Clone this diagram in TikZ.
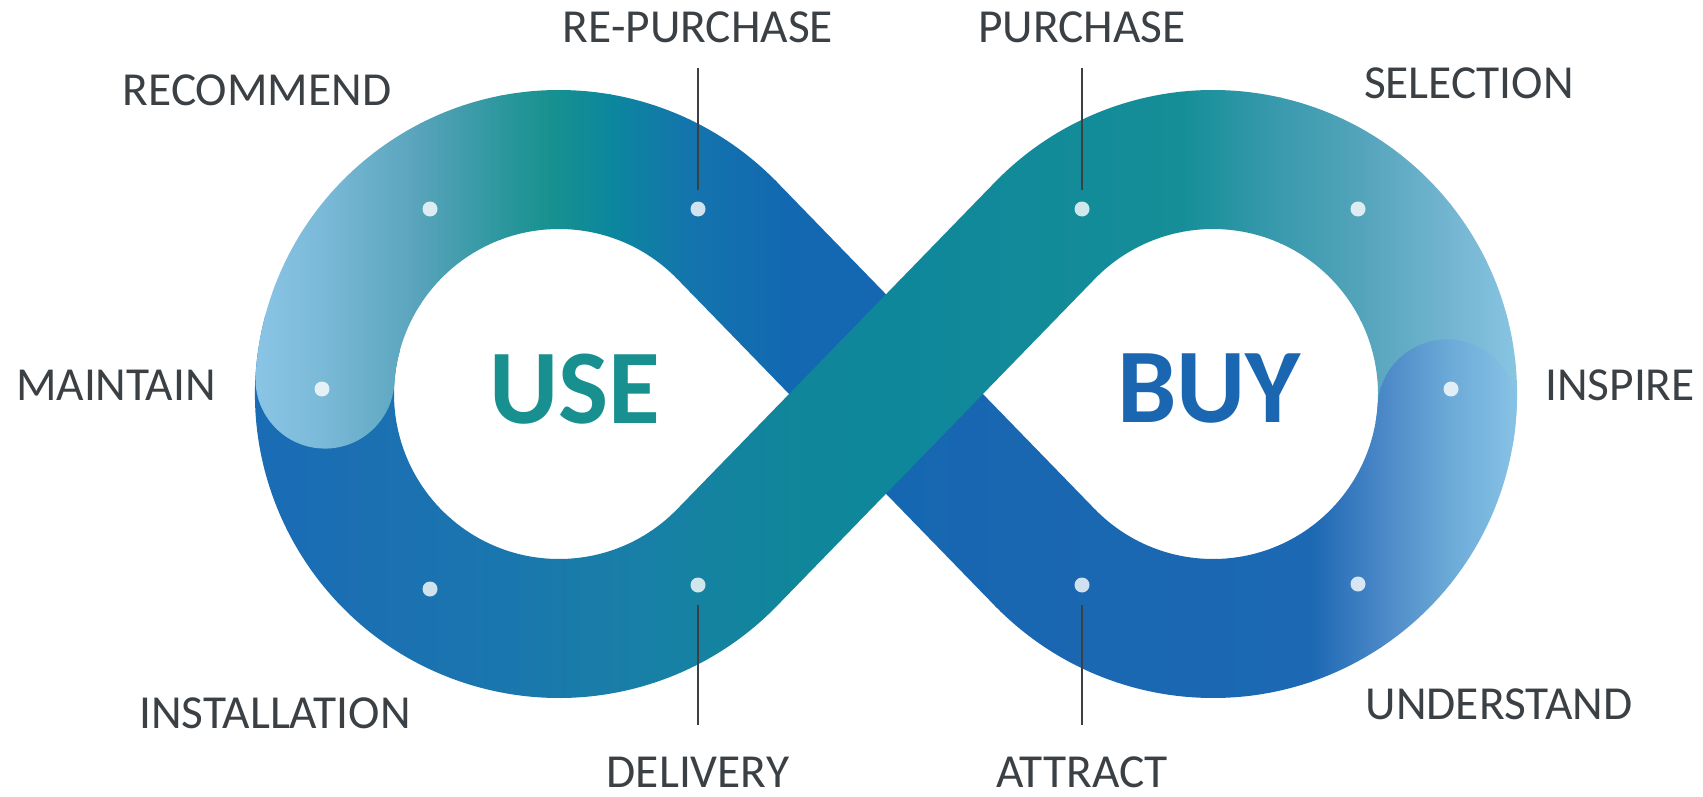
\documentclass[tikz,border=0pt]{standalone}
\usepackage{fontspec}
\setmainfont{Carlito}
\usetikzlibrary{calc}
\definecolor{labelgray}{HTML}{3B4045}
\definecolor{usecol}{HTML}{17908F}
\definecolor{buycol}{HTML}{1B66B1}
% stroke 2 (blue diagonal, top-left arc, bottom-right arc)
\definecolor{ga}{HTML}{8EC7E9}
\definecolor{gb}{HTML}{78B8D6}
\definecolor{gc}{HTML}{57A3BA}
\definecolor{gd}{HTML}{2C979E}
\definecolor{ge}{HTML}{17918F}
\definecolor{gf}{HTML}{0B879E}
\definecolor{gg}{HTML}{1474AD}
\definecolor{gh}{HTML}{1268B1}
\definecolor{gi}{HTML}{1966B1}
\definecolor{gj}{HTML}{1C68B3}
\definecolor{gk}{HTML}{4A87C7}
\definecolor{gl}{HTML}{6CAAD8}
\definecolor{gm}{HTML}{8DC8E8}
% stroke 1 (bottom-left arc, teal diagonal, top-right arc)
\definecolor{ha}{HTML}{1A6BB5}
\definecolor{hb}{HTML}{1B73B0}
\definecolor{hc}{HTML}{1880A6}
\definecolor{hd}{HTML}{0F8699}
\definecolor{he}{HTML}{0F879B}
\definecolor{hf}{HTML}{158E98}
\definecolor{hg}{HTML}{3A9AAE}
\definecolor{hh}{HTML}{53A4BA}
\definecolor{hi}{HTML}{74B5D1}
\definecolor{hj}{HTML}{8CC8E6}
\newcommand\gradfill[1]{%
  \foreach \xa/\ca/\xb/\cb in {#1}{%
    \shade[left color=\ca,right color=\cb] (\xa,-10) rectangle (\xb+1,810);}}
\newcommand\gradtwo{\gradfill{240/ga/330/gb,330/gb/420/gc,420/gc/500/gd,500/gd/550/ge,550/ge/610/gf,610/gf/690/gg,690/gg/790/gh,790/gh/1000/gi,1000/gi/1310/gj,1310/gj/1380/gk,1380/gk/1450/gl,1450/gl/1530/gm}}
\newcommand\gradone{\gradfill{240/ha/450/hb,450/hb/650/hc,650/hc/800/hd,800/hd/900/he,900/he/1180/hf,1180/hf/1280/hg,1280/hg/1360/hh,1360/hh/1450/hi,1450/hi/1530/hj}}
\begin{document}
\begin{tikzpicture}[x=0.5pt,y=-0.5pt,
  lbl/.style={font=\fontsize{23.7}{23.7}\selectfont, text=labelgray, inner sep=0pt, text depth=0pt, anchor=base},
  big/.style={font=\fontsize{53}{53}\selectfont\bfseries, inner sep=0pt, text depth=0pt, anchor=base},
  dotn/.style={circle, fill=white, fill opacity=0.8, inner sep=0pt, minimum size=7.5pt},
  stem/.style={draw=labelgray, line width=1pt}]
\useasboundingbox (0,0) rectangle (1703,797);
\coordinate (L) at (559,394);
\coordinate (R) at (1213,394);

% 1. blue diagonal (under the teal one)
\begin{scope}
\clip (774.9,180.0) -- (1096.8,511.2) -- (997.1,608.1) -- (675.2,276.8) -- cycle;
\gradtwo
\end{scope}

% 2. first stroke: bottom-left arc, teal diagonal, top-right arc
\begin{scope}
\clip ($(L)+(195:304)$) arc[start angle=195,end angle=44.18,radius=304]
  -- ($(R)+(224.18:165)$) arc[start angle=224.18,end angle=370,radius=165]
  -- ($(R)+(370:304)$) arc[start angle=370,end angle=224.18,radius=304]
  -- ($(L)+(44.18:165)$) arc[start angle=44.18,end angle=195,radius=165] -- cycle;
\gradone
\end{scope}

% 3. top-left arc with its round end
\begin{scope}
\clip ($(L)+(315.82:165)$) arc[start angle=315.82,end angle=183.65,radius=165]
  arc[start angle=3.65,end angle=183.65,radius=69.5]
  arc[start angle=183.65,end angle=315.82,radius=304] -- cycle;
\gradtwo
\end{scope}

% 4. bottom-right arc with its round start
\begin{scope}
\clip ($(R)+(3.65:304)$) arc[start angle=3.65,end angle=135.82,radius=304]
  -- ($(R)+(135.82:165)$) arc[start angle=135.82,end angle=3.65,radius=165]
  arc[start angle=183.65,end angle=363.65,radius=69.5] -- cycle;
\gradtwo
\end{scope}

% dots
\node[dotn] (dRC) at (430,209) {};
\node[dotn] (dRP) at (698,209) {};
\node[dotn] (dPU) at (1082,209) {};
\node[dotn] (dSE) at (1358,209) {};
\node[dotn] (dMA) at (322,389) {};
\node[dotn] (dIN) at (1451,389) {};
\node[dotn] (dIS) at (430,589) {};
\node[dotn] (dDE) at (698,585) {};
\node[dotn] (dAT) at (1082,585) {};
\node[dotn] (dUN) at (1358,584) {};

% center words
\node[big, text=usecol] (use) at (575,423) {USE};
\node[big, text=buycol] (buy) at (1209,422) {BUY};

% labels
\node[lbl] (tRP) at (698,43) {RE-PURCHASE};
\node[lbl] (tPU) at (1082,43) {PURCHASE};
\node[lbl] (tRC) at (257,106) {RECOMMEND};
\node[lbl] (tSE) at (1469,99) {SELECTION};
\node[lbl] (tMA) at (116,400) {MAINTAIN};
\node[lbl] (tIN) at (1620,400) {INSPIRE};
\node[lbl] (tIS) at (275,728) {INSTALLATION};
\node[lbl] (tDE) at (698,787) {DELIVERY};
\node[lbl] (tAT) at (1082,787) {ATTRACT};
\node[lbl] (tUN) at (1499,719) {UNDERSTAND};

% stems
\draw[stem, shorten <=12.5pt, shorten >=5.75pt] (tRP.south -| dRP) -- (dRP);
\draw[stem, shorten <=12.5pt, shorten >=5.75pt] (tPU.south -| dPU) -- (dPU);
\draw[stem, shorten <=6.25pt, shorten >=15.5pt] (dDE) -- (tDE.north -| dDE);
\draw[stem, shorten <=6.25pt, shorten >=15.5pt] (dAT) -- (tAT.north -| dAT);
\end{tikzpicture}
\end{document}
